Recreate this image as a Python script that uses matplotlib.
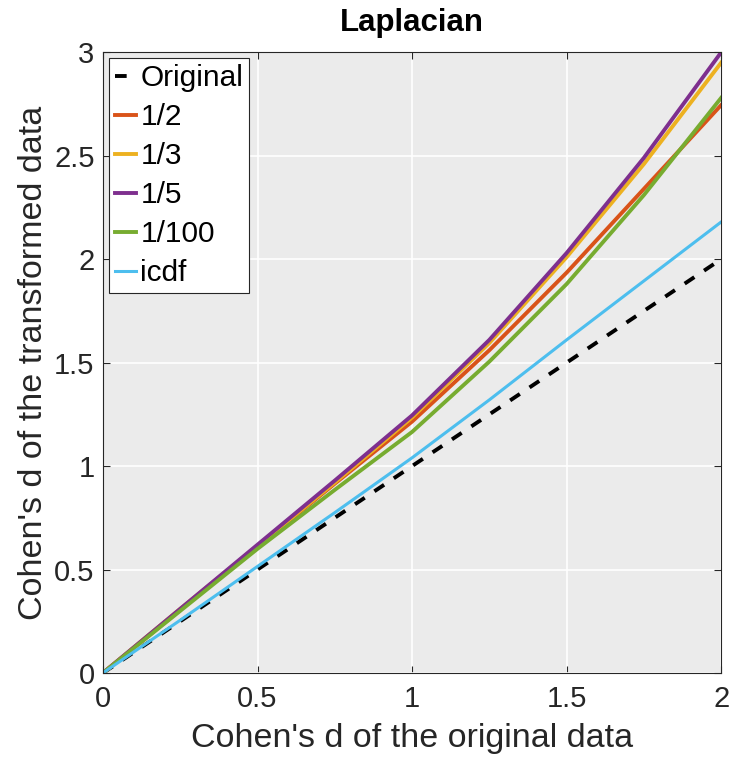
import matplotlib.pyplot as plt
import numpy as np

plt.rcParams['font.family'] = ['Liberation Sans', 'DejaVu Sans']

# Cohen's d before and after the transform
d_orig = [0, 0.25, 0.5, 0.75, 1.0, 1.25, 1.5, 1.75, 2.0]
d_half = [0, 0.305, 0.61, 0.915, 1.215, 1.56, 1.935, 2.34, 2.745]
d_third = [0, 0.31, 0.615, 0.92, 1.235, 1.595, 2.01, 2.46, 2.95]
d_fifth = [0, 0.31, 0.62, 0.93, 1.245, 1.61, 2.03, 2.49, 3.0]
d_hundredth = [0, 0.30, 0.60, 0.885, 1.165, 1.505, 1.88, 2.31, 2.78]
d_icdf = [0, 0.255, 0.515, 0.775, 1.04, 1.32, 1.61, 1.895, 2.18]

fig = plt.figure(figsize=(7.30, 7.57), dpi=100)
ax = fig.add_axes([0.141, 0.111, 0.847, 0.820])
ax.set_facecolor('#ebebeb')

ax.plot(d_orig, d_orig, '--', color='k', lw=2.8, dashes=(3, 3), label='Original')
ax.plot(d_orig, d_half, color='#D95319', lw=2.8, label='1/2')
ax.plot(d_orig, d_third, color='#EDB120', lw=2.8, label='1/3')
ax.plot(d_orig, d_fifth, color='#7E2F8E', lw=2.8, label='1/5')
ax.plot(d_orig, d_hundredth, color='#77AC30', lw=2.8, label='1/100')
ax.plot(d_orig, d_icdf, color='#4DBEEE', lw=2.2, label='icdf')

ax.set_xlim(0, 2)
ax.set_ylim(0, 3)
ax.set_xticks([0, 0.5, 1, 1.5, 2])
ax.set_xticklabels(['0', '0.5', '1', '1.5', '2'])
ax.set_yticks([0, 0.5, 1, 1.5, 2, 2.5, 3])
ax.set_yticklabels(['0', '0.5', '1', '1.5', '2', '2.5', '3'])
ax.grid(True, color='white', lw=1.2)
ax.set_axisbelow(True)
ax.tick_params(direction='in', top=True, right=True, length=5,
               labelsize=21, color='#262626', labelcolor='#262626', pad=6)
ax.tick_params(axis='x', pad=9)
for s in ax.spines.values():
    s.set_color('#262626')
    s.set_linewidth(0.8)

ax.set_xlabel("Cohen's d of the original data", fontsize=24.5, color='#262626', labelpad=7)
ax.set_ylabel("Cohen's d of the transformed data", fontsize=24.5, color='#262626', labelpad=4)
ax.set_title('Laplacian', fontsize=22.5, fontweight='bold', pad=15)

leg = ax.legend(loc='upper left', fontsize=21.5, handlelength=0.7, handletextpad=0.15,
                labelspacing=0.37, borderpad=0.2, borderaxespad=0.2,
                fancybox=False, framealpha=1, edgecolor='#262626')
leg.get_frame().set_linewidth(0.8)

fig.savefig('out.png', dpi=100)
